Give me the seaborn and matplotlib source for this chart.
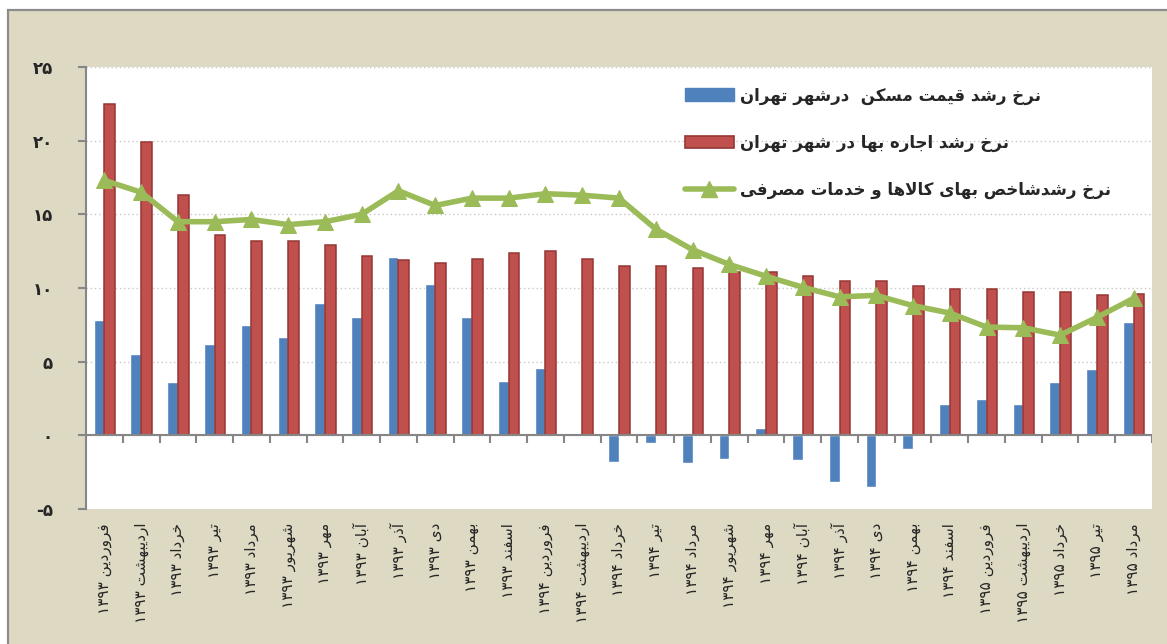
import numpy as np
import pandas as pd
import matplotlib
matplotlib.use("Agg")
import matplotlib.pyplot as plt
import seaborn as sns
from matplotlib.patches import Rectangle, Patch
from matplotlib.lines import Line2D

# ---- data ----
months = ["فروردین", "اردیبهشت", "خرداد", "تیر", "مرداد", "شهریور",
          "مهر", "آبان", "آذر", "دی", "بهمن", "اسفند"]
years = ["۱۳۹۳"] * 12 + ["۱۳۹۴"] * 12 + ["۱۳۹۵"] * 5
labels = [months[i % 12] + " " + years[i] for i in range(29)]

housing = [7.8, 5.5, 3.6, 6.2, 7.5, 6.7, 9.0, 8.0, 12.1, 10.3, 8.0, 3.7,
           4.6, 0.05, -1.8, -0.5, -1.9, -1.6, 0.5, -1.7, -3.2, -3.5,
           -0.9, 2.1, 2.5, 2.1, 3.6, 4.5, 7.7]
rent = [22.5, 19.9, 16.3, 13.6, 13.2, 13.2, 12.9, 12.2, 11.9, 11.7, 12.0, 12.4,
        12.5, 12.0, 11.5, 11.5, 11.35, 11.1, 11.1, 10.8, 10.5, 10.5,
        10.15, 9.9, 9.9, 9.75, 9.75, 9.5, 9.6]
cpi = [17.3, 16.5, 14.5, 14.5, 14.65, 14.3, 14.5, 15.0, 16.6, 15.6, 16.1, 16.1,
       16.4, 16.3, 16.1, 14.0, 12.6, 11.6, 10.8, 10.05, 9.4, 9.5,
       8.8, 8.3, 7.35, 7.3, 6.8, 8.0, 9.3]

series_names = ["نرخ رشد قیمت مسکن  درشهر تهران",
                "نرخ رشد اجاره بها در شهر تهران",
                "نرخ رشدشاخص بهای کالاها و خدمات مصرفی"]

yticks = [-5, 0, 5, 10, 15, 20, 25]
ytick_labels = ["-۵", "۰", "۵", "۱۰", "۱۵", "۲۰", "۲۵"]

# ---- minimal persian shaping (matplotlib has no RTL / joining) ----
F = {
    'ا': (0xFE8D, 0xFE8E, None, None), 'آ': (0xFE81, 0xFE82, None, None),
    'ب': (0xFE8F, 0xFE90, 0xFE91, 0xFE92), 'ت': (0xFE95, 0xFE96, 0xFE97, 0xFE98),
    'ج': (0xFE9D, 0xFE9E, 0xFE9F, 0xFEA0), 'خ': (0xFEA5, 0xFEA6, 0xFEA7, 0xFEA8),
    'د': (0xFEA9, 0xFEAA, None, None), 'ذ': (0xFEAB, 0xFEAC, None, None),
    'ر': (0xFEAD, 0xFEAE, None, None), 'و': (0xFEED, 0xFEEE, None, None),
    'س': (0xFEB1, 0xFEB2, 0xFEB3, 0xFEB4), 'ش': (0xFEB5, 0xFEB6, 0xFEB7, 0xFEB8),
    'ص': (0xFEB9, 0xFEBA, 0xFEBB, 0xFEBC), 'ف': (0xFED1, 0xFED2, 0xFED3, 0xFED4),
    'ق': (0xFED5, 0xFED6, 0xFED7, 0xFED8), 'ل': (0xFEDD, 0xFEDE, 0xFEDF, 0xFEE0),
    'م': (0xFEE1, 0xFEE2, 0xFEE3, 0xFEE4), 'ن': (0xFEE5, 0xFEE6, 0xFEE7, 0xFEE8),
    'ه': (0xFEE9, 0xFEEA, 0xFEEB, 0xFEEC), 'ی': (0xFBFC, 0xFBFD, 0xFBFE, 0xFBFF),
    'ک': (0xFB8E, 0xFB8F, 0xFB90, 0xFB91),
}


def shape(s):
    res = []
    i = 0
    n = len(s)
    while i < n:
        c = s[i]
        if c not in F:
            res.append(c)
            i += 1
            continue
        prev = s[i - 1] if i > 0 else None
        cp = prev in F and F[prev][2] is not None
        if c == 'ل' and i + 1 < n and s[i + 1] == 'ا':
            res.append(chr(0xFEFC if cp else 0xFEFB))
            i += 2
            continue
        nxt = s[i + 1] if i + 1 < n else None
        cn = nxt in F and F[c][2] is not None
        if cp and cn:
            f = F[c][3]
        elif cp:
            f = F[c][1]
        elif cn:
            f = F[c][2]
        else:
            f = F[c][0]
        res.append(chr(f))
        i += 1
    return "".join(reversed(res))


def show_label(l):
    word, yr = l.split(" ")
    return yr + " " + shape(word)


df = pd.DataFrame({
    "cat": labels * 2,
    "series": [series_names[0]] * 29 + [series_names[1]] * 29,
    "value": housing + rent,
})

blue = "#4F81BD"
red = "#C0504D"
green = "#9BBB59"
tan = "#DDD9C3"

sns.set_style("white")
plt.rcParams["font.family"] = ["DejaVu Sans"]

fig = plt.figure(figsize=(11.67, 6.44), dpi=100)
fig.patch.set_facecolor("white")
fig.patches.append(Rectangle((8 / 1167, -0.05), 1.2, 634 / 644 + 0.05,
                             transform=fig.transFigure, facecolor=tan,
                             edgecolor="#8C8C8C", lw=1.6, zorder=-10))
ax = fig.add_axes([86 / 1167, 1 - 509 / 644, 1066 / 1167, 442 / 644])
ax.set_zorder(1)
ax.set_facecolor("white")

sns.barplot(data=df, x="cat", y="value", hue="series", order=labels,
            hue_order=series_names[:2], palette=[blue, red], saturation=1,
            width=0.58, gap=0, ax=ax, legend=False, zorder=2)
for p in ax.containers[1]:
    p.set_edgecolor("#953735")
    p.set_linewidth(1.1)

x = np.arange(len(labels))
sns.lineplot(x=x, y=cpi, color=green, lw=4, marker="^", markersize=12,
             markeredgecolor=green, ax=ax, zorder=4)

ax.set_xlim(-0.5, len(labels) - 0.5)
ax.set_ylim(-5, 25)
ax.set_yticks(yticks)
ax.set_yticklabels(ytick_labels, fontsize=12, fontweight="bold")
ax.tick_params(axis="y", direction="out", length=6, width=1.5, color="#868686", pad=18, left=True)
ax.set_xticks(x)
ax.set_xticklabels([show_label(l) for l in labels], rotation=90, fontsize=11, va="top")
ax.tick_params(axis="x", length=0, pad=10)
ax.set_xlabel("")
ax.set_ylabel("")

for s in ["top", "right", "bottom"]:
    ax.spines[s].set_visible(False)
ax.spines["left"].set_color("#868686")
ax.spines["left"].set_linewidth(1.5)

ax.grid(axis="y", linestyle=(0, (1, 2)), color="#C8C8C8", lw=1, zorder=0)
ax.set_axisbelow(True)
ax.axhline(0, color="#868686", lw=1.5, zorder=3)
ax.vlines(x + 0.5, -0.5, 0, color="#868686", lw=1.5, zorder=3)

handles = [Patch(facecolor=blue, edgecolor=blue),
           Patch(facecolor=red, edgecolor="#953735", lw=1.2),
           Line2D([], [], color=green, lw=4, marker="^", markersize=12)]
leg = ax.legend(handles, [shape(s) for s in series_names], loc="upper left",
                bbox_to_anchor=(0.548, 0.99), frameon=False,
                handlelength=2.9, handleheight=0.8, labelspacing=1.75,
                handletextpad=0.4, prop={"weight": "bold", "size": 12})

fig.savefig("out.png", dpi=100)
